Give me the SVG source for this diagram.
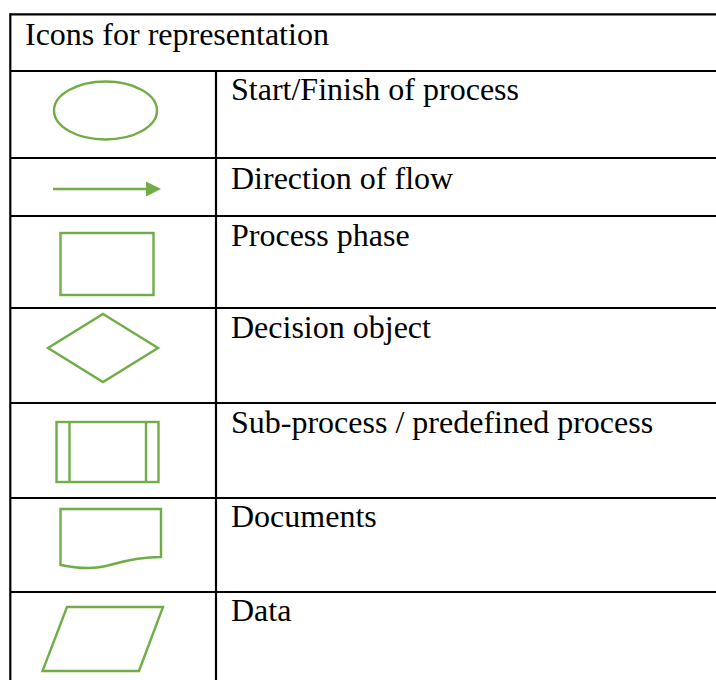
<svg xmlns="http://www.w3.org/2000/svg" width="716" height="680" viewBox="0 0 716 680">
  <style>
    .grid { stroke: #000; stroke-width: 2.2; fill: none; }
    .icon { stroke: #70AD47; stroke-width: 2.4; fill: none; }
    .label { font-family: "Liberation Serif", "Times New Roman", serif; font-size: 32px; fill: #000; }
  </style>
  <defs>
    <marker id="arrowhead" markerUnits="userSpaceOnUse" markerWidth="16" markerHeight="16" refX="0" refY="8" orient="auto">
      <path d="M0,0.5 L15,8 L0,15.5 Z" fill="#70AD47"/>
    </marker>
  </defs>
  <rect width="716" height="680" fill="#fff"/>

  <!-- table rules -->
  <g id="table">
    <line class="grid" x1="10.3" y1="14.3" x2="716" y2="14.3"/>
    <line class="grid" x1="10.3" y1="13.2" x2="10.3" y2="680"/>
    <line class="grid" x1="216" y1="71" x2="216" y2="680"/>
    <line class="grid" x1="10.3" y1="71" x2="716" y2="71"/>
    <line class="grid" x1="10.3" y1="158" x2="716" y2="158"/>
    <line class="grid" x1="10.3" y1="216" x2="716" y2="216"/>
    <line class="grid" x1="10.3" y1="308" x2="716" y2="308"/>
    <line class="grid" x1="10.3" y1="403" x2="716" y2="403"/>
    <line class="grid" x1="10.3" y1="498" x2="716" y2="498"/>
    <line class="grid" x1="10.3" y1="592" x2="716" y2="592"/>
    <text class="label" x="25" y="44.5">Icons for representation</text>
  </g>

  <g id="start-finish">
    <ellipse class="icon" cx="105.5" cy="110.5" rx="51.5" ry="29"/>
    <text class="label" x="231" y="99.5">Start/Finish of process</text>
  </g>

  <g id="connectors">
    <line class="icon" x1="53" y1="189" x2="146" y2="189" marker-end="url(#arrowhead)"/>
  </g>
  <g id="direction-of-flow">
    <text class="label" x="231" y="188.5">Direction of flow</text>
  </g>

  <g id="process-phase">
    <rect class="icon" x="60.5" y="233" width="93" height="62"/>
    <text class="label" x="231" y="245.5">Process phase</text>
  </g>

  <g id="decision-object">
    <polygon class="icon" points="103,314 158,348 103,382 48,348"/>
    <text class="label" x="231" y="337.5">Decision object</text>
  </g>

  <g id="sub-process">
    <rect class="icon" x="56.5" y="422" width="102" height="60"/>
    <line class="icon" x1="69.5" y1="422" x2="69.5" y2="482"/>
    <line class="icon" x1="146" y1="422" x2="146" y2="482"/>
    <text class="label" x="231" y="432.5">Sub-process / predefined process</text>
  </g>

  <g id="documents">
    <path class="icon" d="M60.5,565 V509 H161 V557 C134,557 118,563 106,566 C96,568.5 80,569 60.5,565 Z"/>
    <text class="label" x="231" y="526.5">Documents</text>
  </g>

  <g id="data">
    <polygon class="icon" points="67,607 163,607 139,671 42.5,671"/>
    <text class="label" x="231" y="620.5">Data</text>
  </g>
</svg>
